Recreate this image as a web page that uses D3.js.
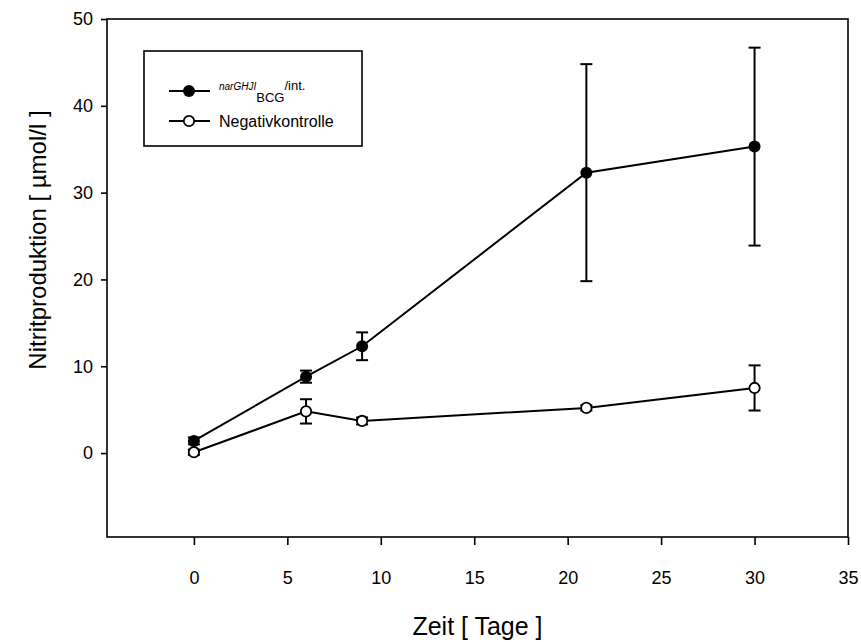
<!DOCTYPE html>
<html>
<head>
<meta charset="utf-8">
<script src="https://cdnjs.cloudflare.com/ajax/libs/d3/7.8.5/d3.min.js"></script>
<style>
  html, body { margin: 0; padding: 0; background: #fff; }
  svg { display: block; font-family: "Liberation Sans", Arial, sans-serif; }
</style>
</head>
<body>
<svg id="chart" width="861" height="642"></svg>
<script>
// Nitrite production over time (days)
const days = [0, 6, 9, 21, 30];
const narMean = [1.4, 8.8, 12.3, 32.3, 35.3];
const narErr  = [0.4, 0.7, 1.6, 12.5, 11.4];
const negMean = [0.1, 4.8, 3.7, 5.2, 7.5];
const negErr  = [0.3, 1.4, 0.4, 0.3, 2.6];

const xTicks = [0, 5, 10, 15, 20, 25, 30, 35];
const yTicks = [0, 10, 20, 30, 40, 50];

const svg = d3.select("#chart");
const plotL = 107, plotR = 848, plotT = 19, plotB = 537;

const x = d3.scaleLinear().domain([-4.65, 35]).range([plotL, plotR]);
const y = d3.scaleLinear().domain([-9.67, 50]).range([plotB, plotT]);

// frame
svg.append("rect")
  .attr("x", plotL).attr("y", plotT)
  .attr("width", plotR - plotL).attr("height", plotB - plotT)
  .attr("fill", "none").attr("stroke", "#000").attr("stroke-width", 1.6);

// axes
const xAxis = svg.append("g")
  .attr("transform", `translate(0,${plotB})`)
  .call(d3.axisBottom(x).tickValues(xTicks).tickSize(8).tickPadding(26).tickFormat(d3.format("d")));
const yAxis = svg.append("g")
  .attr("transform", `translate(${plotL},0)`)
  .call(d3.axisLeft(y).tickValues(yTicks).tickSize(6).tickPadding(8).tickFormat(d3.format("d")));
[xAxis, yAxis].forEach(g => {
  g.select(".domain").remove();
  g.selectAll(".tick line").attr("stroke", "#000").attr("stroke-width", 1.6);
  g.selectAll(".tick text").attr("fill", "#000")
    .style("font-size", "18px").style("font-family", "'Liberation Sans', Arial, sans-serif");
});

// axis titles
svg.append("text")
  .attr("x", (plotL + plotR) / 2).attr("y", 635)
  .attr("text-anchor", "middle")
  .style("font-size", "25px")
  .text("Zeit [ Tage ]");
svg.append("text")
  .attr("transform", "translate(46,240) rotate(-90)")
  .attr("text-anchor", "middle")
  .style("font-size", "24px")
  .text("Nitritproduktion [ µmol/l ]");

function drawSeries(means, errs, filled) {
  const pts = days.map((d, i) => ({ d, m: means[i], e: errs[i] }));
  const g = svg.append("g");
  g.append("path")
    .datum(pts)
    .attr("fill", "none").attr("stroke", "#000").attr("stroke-width", 2)
    .attr("d", d3.line().x(p => x(p.d)).y(p => y(p.m)));
  const eb = g.selectAll(".eb").data(pts).enter().append("g");
  eb.append("line")
    .attr("x1", p => x(p.d)).attr("x2", p => x(p.d))
    .attr("y1", p => y(p.m - p.e)).attr("y2", p => y(p.m + p.e))
    .attr("stroke", "#000").attr("stroke-width", 2);
  [-1, 1].forEach(s => {
    eb.append("line")
      .attr("x1", p => x(p.d) - 6).attr("x2", p => x(p.d) + 6)
      .attr("y1", p => y(p.m + s * p.e)).attr("y2", p => y(p.m + s * p.e))
      .attr("stroke", "#000").attr("stroke-width", 2);
  });
  g.selectAll(".pt").data(pts).enter().append("circle")
    .attr("cx", p => x(p.d)).attr("cy", p => y(p.m))
    .attr("r", filled ? 6 : 5.2)
    .attr("fill", filled ? "#000" : "#fff")
    .attr("stroke", "#000").attr("stroke-width", filled ? 0 : 1.8);
}
drawSeries(negMean, negErr, false);
drawSeries(narMean, narErr, true);

// legend
const lg = svg.append("g");
lg.append("rect")
  .attr("x", 144).attr("y", 51).attr("width", 218).attr("height", 95)
  .attr("fill", "#fff").attr("stroke", "#000").attr("stroke-width", 1.6);
const rows = [
  { yy: 91, filled: true },
  { yy: 121, filled: false }
];
rows.forEach(r => {
  lg.append("line").attr("x1", 169).attr("x2", 210).attr("y1", r.yy).attr("y2", r.yy)
    .attr("stroke", "#000").attr("stroke-width", 2);
  lg.append("circle").attr("cx", 189).attr("cy", r.yy)
    .attr("r", r.filled ? 6 : 5.2)
    .attr("fill", r.filled ? "#000" : "#fff")
    .attr("stroke", "#000").attr("stroke-width", r.filled ? 0 : 1.8);
});
const t1 = lg.append("text").attr("x", 219).attr("y", 90);
t1.append("tspan").style("font-size", "10px").style("font-style", "italic").text("narGHJI");
t1.append("tspan").attr("dy", 12).style("font-size", "13px").text("BCG");
t1.append("tspan").attr("dy", -12).style("font-size", "13px").text("/int.");
lg.append("text").attr("x", 219).attr("y", 127).style("font-size", "16px").text("Negativkontrolle");
</script>
</body>
</html>
